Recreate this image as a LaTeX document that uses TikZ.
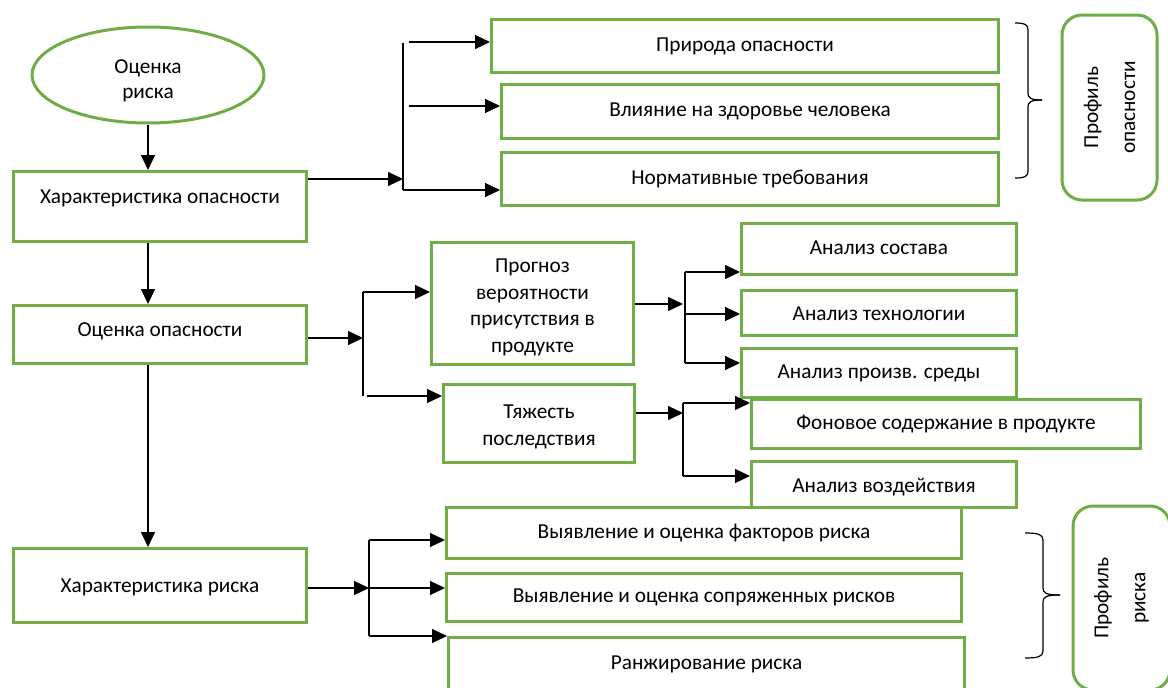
\documentclass[tikz,border=0pt]{standalone}
\usepackage{fontspec}
\setmainfont{Carlito}
\usetikzlibrary{shapes.geometric,arrows.meta}
\definecolor{grn}{HTML}{70AD47}
\newcommand{\fsz}{\fontsize{21.3}{25}\selectfont}
\newcommand{\fszb}{\fontsize{21.3}{26.5}\selectfont}
\newcommand{\fszc}{\fontsize{21.3}{37}\selectfont}
\begin{document}
\begin{tikzpicture}[x=1pt,y=1pt,
  gbox/.style={draw=grn, line width=3pt, rectangle, inner sep=0pt, anchor=north west,
     font=\fsz, text height=14pt, text depth=4pt, align=center},
  mbox/.style={draw=grn, line width=3pt, rectangle, inner sep=0pt, anchor=north west,
     font=\fszb, align=center},
  ell/.style={draw=grn, line width=3pt, ellipse, inner sep=0pt, align=center, font=\fsz},
  prof/.style={draw=grn, line width=3pt, rectangle, rounded corners=20pt, inner sep=0pt,
     rotate=90, align=center, font=\fszc},
  arr/.style={line width=1.2pt, -{Triangle[length=15pt,width=14pt]}},
  ln/.style={line width=1.2pt},
  brc/.style={line width=1.2pt}
]
\clip (0,0) rectangle (1168,-688);
\fill[white] (0,0) rectangle (1168,-688);

% left column
\node[ell, minimum width=232pt, minimum height=96pt] (E) at (148,-75) {\rule{0pt}{25pt}Оценка\\риска};
\node[gbox, minimum width=293pt, minimum height=70pt, text depth=20pt] (A) at (12,-170) {Характеристика опасности};
\node[gbox, minimum width=293pt, minimum height=58pt, text depth=10pt] (B) at (12,-304) {Оценка опасности};
\node[gbox, minimum width=293pt, minimum height=74pt, text height=18pt] (C) at (12,-547) {Характеристика риска};

\draw[arr] (E.south) -- (A.north -| E.south);
\draw[arr] (A.south -| E.south) -- (B.north -| E.south);
\draw[arr] (B.south -| E.south) -- (C.north -| E.south);

% top group
\node[gbox, minimum width=507pt, minimum height=53pt] (P1) at (490,-18) {Природа опасности};
\node[gbox, minimum width=497pt, minimum height=54pt] (P2) at (500,-83) {Влияние на здоровье человека};
\node[gbox, minimum width=497pt, minimum height=53pt] (P3) at (500,-151) {Нормативные требования};

\coordinate (j1) at (403,-179);
\coordinate (t1a) at (403,-43);
\coordinate (t1b) at (403,-190);
\coordinate (b11) at (409,-42);
\coordinate (b12) at (409,-106);
\draw[arr] (A.east |- j1) -- (j1);
\draw[ln] (t1a) -- (t1b);
\draw[arr] (b11) -- (b11 -| P1.west);
\draw[arr] (b12) -- (b12 -| P2.west);
\draw[arr] (t1b) -- (t1b -| P3.west);

% middle group
\node[mbox, minimum width=202pt, minimum height=122pt] (Pr) at (430,-241) {\rule{0pt}{21pt}Прогноз\\вероятности\\присутствия в\\продукте};
\node[mbox, minimum width=191pt, minimum height=78pt] (Ty) at (442,-383) {\rule{0pt}{20pt}Тяжесть\\последствия};

\coordinate (j2) at (363,-338);
\coordinate (b21) at (363,-292);
\coordinate (t2b) at (363,-396);
\coordinate (b22) at (367,-396);
\draw[arr] (B.east |- j2) -- (j2);
\draw[ln] (b21) -- (t2b);
\draw[arr] (b21) -- (b21 -| Pr.west);
\draw[arr] (b22) -- (b22 -| Ty.west);

\node[gbox, minimum width=275pt, minimum height=51pt] (AS) at (740,-222) {Анализ состава};
\node[gbox, minimum width=275pt, minimum height=45pt, text height=19pt] (AT) at (740,-289) {Анализ технологии};
\node[gbox, minimum width=275pt, minimum height=49pt] (AP) at (740,-347) {Анализ произв. среды};
\node[gbox, minimum width=389pt, minimum height=49pt] (FS) at (750,-398) {Фоновое содержание в продукте};
\node[gbox, minimum width=265pt, minimum height=46pt, text height=20pt] (AV) at (750,-460) {Анализ воздействия};

\coordinate (j3) at (683,-304);
\coordinate (b31) at (685,-272);
\coordinate (b32) at (685,-314);
\coordinate (b33) at (685,-363);
\draw[arr] (Pr.east |- j3) -- (j3);
\draw[ln] (b31) -- (b33);
\draw[arr] (b31) -- (b31 -| AS.west);
\draw[arr] (b32) -- (b32 -| AT.west);
\draw[arr] (b33) -- (b33 -| AP.west);

\coordinate (j4) at (683,-413);
\coordinate (b41) at (683,-403);
\coordinate (b42) at (683,-476);
\draw[arr] (Ty.east |- j4) -- (j4);
\draw[ln] (b41) -- (b42);
\draw[arr] (b41) -- (b41 -| FS.west);
\draw[arr] (b42) -- (b42 -| AV.west);

% bottom group
\node[gbox, minimum width=515pt, minimum height=51pt] (R1) at (445,-506) {Выявление и оценка факторов риска};
\node[gbox, minimum width=515pt, minimum height=48pt] (R2) at (445,-572) {Выявление и оценка сопряженных рисков};
\node[gbox, minimum width=516pt, minimum height=54pt] (R3) at (447,-636) {Ранжирование риска};

\coordinate (j5) at (369,-588);
\coordinate (b51) at (369,-540);
\coordinate (b53) at (369,-636);
\draw[arr] (C.east |- j5) -- (j5);
\draw[ln] (b51) -- (b53);
\draw[arr] (b51) -- (b51 -| R1.west);
\draw[arr] (j5) -- (j5 -| R2.west);
\draw[arr] (b53) -- (b53 -| R3.west);

% braces
\draw[brc] (1015,-23) .. controls (1024,-23) and (1028,-24) .. (1028,-30) -- (1028,-93)
  .. controls (1028,-98) and (1031,-100) .. (1042,-100);
\draw[brc] (1042,-100) .. controls (1031,-100) and (1028,-102) .. (1028,-107) -- (1028,-171)
  .. controls (1028,-177) and (1024,-178) .. (1015,-178);
\draw[brc] (1025,-533) .. controls (1037,-533) and (1043,-534) .. (1043,-540) -- (1043,-588)
  .. controls (1043,-593) and (1046,-595) .. (1060,-595);
\draw[brc] (1060,-595) .. controls (1046,-595) and (1043,-597) .. (1043,-602) -- (1043,-651)
  .. controls (1043,-657) and (1037,-658) .. (1025,-658);

% profiles
\node[prof, minimum width=185pt, minimum height=95pt] (PO) at (1109.5,-107.5) {Профиль\\опасности};
\node[prof, minimum width=184pt, minimum height=97pt] (PR) at (1121.5,-598) {Профиль\\риска};
\end{tikzpicture}
\end{document}
